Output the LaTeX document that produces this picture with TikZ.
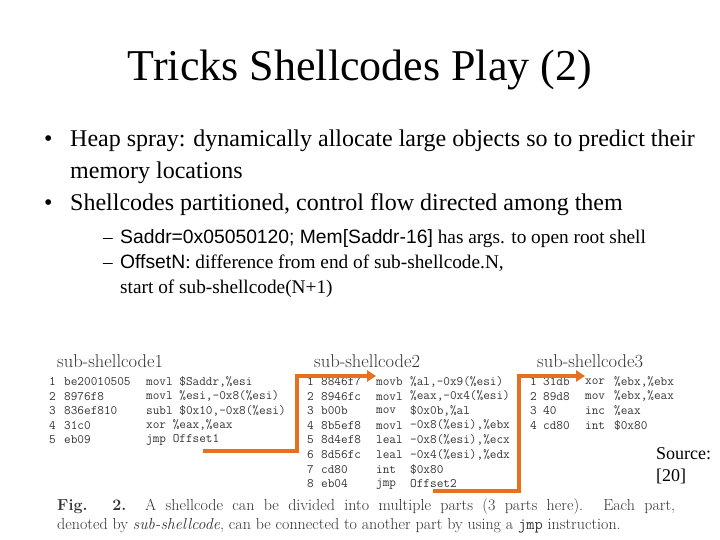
\documentclass[tikz,border=0pt]{standalone}
\usepackage{fontspec}
\setmainfont{Liberation Serif}
\newfontfamily\lsans{Liberation Sans}
\newfontfamily\lmr{Latin Modern Roman}
\newfontfamily\lmtt{Latin Modern Mono}
\usetikzlibrary{arrows.meta}
\definecolor{orng}{RGB}{230,112,30}
\begin{document}
\begin{tikzpicture}[x=1pt,y=-1pt,
  code/.style={anchor=west,inner sep=0pt,font=\lmtt\fontsize{12.9}{13}\selectfont,text=black!80},
  hdr/.style={anchor=west,inner sep=0pt,font=\lmr\fontsize{18.5}{19}\selectfont,text=black!80},
  jump/.style={orng,line width=3.5pt,-{Triangle[length=9pt,width=11pt]}}]
\useasboundingbox (0,0) rectangle (720,540);
\node[inner sep=0pt,font=\fontsize{44}{48}\selectfont] (title) at (360,70) {Tricks Shellcodes Play (2)};
\node[anchor=north west,inner sep=0pt,align=left,font=\fontsize{24}{32}\selectfont] (b1) at (44,130)
 {\makebox[26pt][l]{•}Heap spray: dynamically allocate large objects so to predict their\\
  \hspace{26pt}memory locations\\
  \makebox[26pt][l]{•}Shellcodes partitioned, control flow directed among them};
\node[anchor=north west,inner sep=0pt,align=left,font=\fontsize{19.3}{25}\selectfont] (b2) at (103,229)
 {\makebox[17pt][l]{–}{\lsans Saddr=0x05050120; Mem[Saddr-16]} has args. to open root shell\\
  \makebox[17pt][l]{–}{\lsans OffsetN}: difference from end of sub-shellcode.N,\\
  \hspace*{17pt}start of sub-shellcode(N+1)};
\node[hdr] (h1) at (57,361) {sub-shellcode1};
\node[hdr] (h2) at (314,361) {sub-shellcode2};
\node[hdr] (h3) at (537,361) {sub-shellcode3};
% block 1
\foreach \n/\h/\m/\o [count=\i] in {1/be20010505/movl/{\$Saddr,\%esi},2/8976f8/movl/{\%esi,-0x8(\%esi)},3/836ef810/subl/{\$0x10,-0x8(\%esi)},4/31c0/xor/{\%eax,\%eax},5/eb09/jmp/Offset1}{
  \node[code] (a\i) at (49,367+14.6*\i) {\n};
  \node[code] (ah\i) at (64,367+14.6*\i) {\h};
  \node[code] (am\i) at (146,367+14.6*\i) {\m\ \o};}
% block 2
\foreach \n/\h/\m/\o [count=\i] in {1/8846f7/movb/{\%al,-0x9(\%esi)},2/8946fc/movl/{\%eax,-0x4(\%esi)},3/b00b/mov/{\$0x0b,\%al},4/8b5ef8/movl/{-0x8(\%esi),\%ebx},5/8d4ef8/leal/{-0x8(\%esi),\%ecx},6/8d56fc/leal/{-0x4(\%esi),\%edx},7/cd80/int/{\$0x80},8/eb04/jmp/Offset2}{
  \node[code] (b\i) at (307,367+14.6*\i) {\n};
  \node[code] (bh\i) at (321,367+14.6*\i) {\h};
  \node[code] (bm\i) at (376,367+14.6*\i) {\m};
  \node[code] (bo\i) at (410,367+14.6*\i) {\o};}
% block 3
\foreach \n/\h/\m/\o [count=\i] in {1/31db/xor/{\%ebx,\%ebx},2/89d8/mov/{\%ebx,\%eax},3/40/inc/{\%eax},4/cd80/int/{\$0x80}}{
  \node[code] (c\i) at (530,367+14.6*\i) {\n};
  \node[code] (ch\i) at (543,367+14.6*\i) {\h};
  \node[code] (cm\i) at (585,367+14.6*\i) {\m};
  \node[code] (co\i) at (614,367+14.6*\i) {\o};}
\coordinate (s1) at (203,451);
\coordinate (s2) at (433,491);
\draw[jump] (s1) -- (297,451) -- (297,376) -- (bm1.west|-297,376);
\draw[jump] (s2) -- (519,491) -- (519,376) -- (cm1.west|-519,376);
\node[anchor=west,inner sep=0pt,align=left,font=\fontsize{18}{22}\selectfont] (src) at (656,466) {Source:\\{[20]}};
\node[anchor=north west,inner sep=0pt,text width=618pt,align=justify,font=\lmr\fontsize{16}{19}\selectfont,text=black!80] (cap) at (57,498)
 {\textbf{Fig. 2.}\ \ A shellcode can be divided into multiple parts (3 parts here). Each part,\linebreak denoted by \textit{sub-shellcode}, can be connected to another part by using a {\lmtt jmp} instruction.};
\end{tikzpicture}
\end{document}
